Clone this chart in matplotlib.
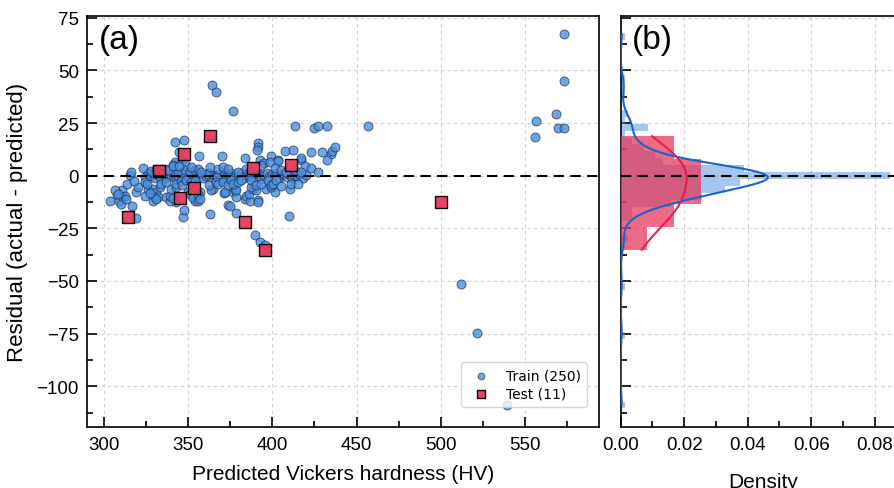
import numpy as np
import matplotlib
matplotlib.use("Agg")
import matplotlib.pyplot as plt
from matplotlib.ticker import MultipleLocator, FormatStrFormatter

# ---- data: predicted hardness (HV) and residuals (actual - predicted) ----
train_pred = [
    364.4, 366.4, 376.6, 413.6, 424.8, 427.3, 432.2, 456.6, 573.4, 573.0,
    568.2, 556.8, 569.8, 573.0, 556.2, 511.8, 521.3, 539.1,
    342.0, 347.6, 391.4, 391.6, 391.0, 344.6, 370.1, 356.5, 383.5, 407.7,
    412.2, 422.8, 429.5, 435.0, 435.3, 437.1, 432.6, 416.7, 419.4, 399.4,
    403.5, 392.7, 395.3, 342.0, 346.0, 347.9, 398.4, 403.4, 417.2, 341.0,
    310.9, 307.7, 303.4, 308.9, 311.3, 312.7, 316.3, 319.2, 319.2, 306.4,
    308.3, 310.3, 313.3, 320.2, 326.2, 329.1, 331.1, 333.1, 324.2, 329.1,
    330.1, 332.1, 337.0, 339.0, 343.0, 339.0, 341.0, 340.0, 343.0, 350.0,
    353.9, 346.9, 347.5, 350.9, 352.9, 355.9, 356.8, 363.2, 364.8, 363.8,
    355.8, 356.8, 371.3, 376.6, 371.7, 377.6, 373.7, 374.8, 378.6, 378.6,
    383.6, 384.6, 386.5, 391.5, 391.5, 386.1, 388.5, 390.5, 396.4, 401.4,
    410.3, 409.7, 389.9, 392.5, 395.8, 387.5, 399.4, 378.6, 331.1, 327.1,
    315.6, 324.5, 326.0, 327.5, 329.0, 330.5, 332.0, 333.5, 335.0, 336.5,
    338.0, 339.5, 341.0, 342.5, 344.0, 345.5, 347.0, 348.5, 350.0, 351.5,
    353.0, 354.5, 356.0, 357.5, 359.0, 360.5, 362.0, 363.5, 365.0, 366.5,
    368.0, 369.5, 371.0, 372.5, 374.0, 375.5, 377.0, 378.5, 380.0, 381.5,
    383.0, 384.5, 386.0, 387.5, 389.0, 390.5, 392.0, 393.5, 395.0, 396.5,
    398.0, 399.5, 401.0, 402.5, 404.0, 405.5, 407.0, 408.5, 410.0, 411.5,
    413.0, 414.5, 416.0, 418.0, 420.0, 346.2, 352.8, 361.3, 367.2, 385.6,
    316.0, 323.2, 328.0, 331.1, 334.1, 336.0, 338.0, 344.0, 347.9, 350.9,
    353.9, 355.9, 357.8, 341.0, 344.5, 351.9, 362.8, 367.7, 370.7, 373.7,
    379.6, 384.6, 386.5, 393.5, 401.4, 405.4, 408.3, 413.3, 417.2, 423.0,
    427.1,
    313.5, 318.0, 324.2, 325.2, 334.1, 337.0, 342.8, 345.9, 346.0, 348.9,
    351.9, 353.9, 362.4, 366.7, 367.7, 370.7, 373.7, 375.6, 376.6, 379.6,
    381.6, 387.5, 390.5, 393.5, 397.4, 399.4, 400.4, 402.4, 405.3, 411.3,
    415.3,
]
train_resid = [
    43.0, 40.0, 30.7, 23.8, 22.6, 23.7, 23.5, 23.8, 67.1, 45.2,
    29.3, 26.2, 22.8, 22.6, 18.3, -51.4, -74.7, -108.8,
    16.0, 16.9, 15.6, 13.8, 12.0, 11.2, 9.6, 9.3, 8.3, 11.6,
    12.4, 11.1, 11.5, 10.5, 11.8, 13.6, 7.6, 7.4, 4.8, 9.4,
    7.5, 7.6, 6.0, 6.4, 7.3, 5.7, 6.4, 7.2, 8.6, 5.2,
    -7.0, -9.1, -12.2, -11.8, -10.2, -9.4, -14.6, -19.9, -7.8, -7.0,
    -8.6, -13.3, -11.0, -5.4, -7.0, -6.2, -7.8, -5.4, -9.4, -11.8,
    -10.2, -10.2, -10.2, -11.8, -12.6, -9.4, -10.7, -6.2, -5.4, -7.8,
    -11.8, -19.7, -16.5, -8.6, -10.7, -11.8, -7.8, -18.1, -6.2, -7.0,
    -8.6, -11.0, -8.1, -7.5, -7.8, -7.0, -14.1, -14.6, -17.8, -10.2,
    -11.0, -9.4, -11.8, -11.3, -12.6, -8.6, -6.2, -7.0, -6.2, -7.8,
    -6.5, -19.2, -28.1, -31.3, -32.8, -5.4, -5.4, -7.0, -11.0, -8.0,
    0.4, -0.8, 1.2, -0.3, 0.9, -1.2, 0.2, -0.6, 1.4, -1.0,
    0.4, -0.2, 0.8, -1.4, 0.0, 1.1, -0.7, 0.6, -0.4, 1.5,
    -1.1, 0.3, -0.5, 0.9, -1.3, 0.1, 1.3, -0.8, 0.5, -0.1,
    1.0, -1.5, 0.7, -0.4, 0.2, 1.2, -0.9, 0.4, -0.2, 1.4,
    -1.2, 0.0, 0.8, -0.6, 1.1, -0.3, 0.6, -1.4, 0.3, 1.5,
    -0.7, 0.9, -0.1, 1.3, -1.0, 0.2, 0.7, -0.5, 1.0, -1.3,
    0.4, -0.2, 0.8, -0.9, 0.3, 0.2, -0.3, 0.6, -0.6, 0.5,
    2.0, 3.5, 2.4, 3.3, 3.3, 3.3, 2.5, 1.9, 2.5, 1.8,
    2.5, 3.3, 1.8, 4.6, 4.8, 4.1, 4.1, 3.3, 4.1, 3.3,
    2.0, 3.0, 2.5, 4.9, 3.6, 2.5, 1.7, 2.5, 1.8, 3.8,
    2.0,
    -3.9, -2.5, -3.1, -3.9, -3.8, -3.1, -3.9, -2.3, -4.6, -1.9,
    -3.1, -2.3, -4.6, -3.1, -3.8, -3.1, -4.6, -1.8, -3.9, -3.1,
    -2.0, -1.8, -4.6, -3.8, -2.0, -4.6, -3.9, -1.9, -4.8, -3.8,
    -3.9,
]
test_pred = [314.5, 332.5, 347.5, 362.8, 353.4, 345.1, 388.5, 383.6, 411.0, 395.4, 500.4]
test_resid = [-19.4, 2.2, 10.3, 18.8, -5.8, -10.4, 3.9, -21.9, 5.0, -35.2, -12.3]

train_label = f"Train ({len(train_pred)})"
test_label = f"Test ({len(test_pred)})"

BLUE = "#4a8fe0"
BLUE_LINE = "#1565d0"
RED = "#e6395c"
RED_LINE = "#e0204f"


def kde_curve(values, n=400):
    """Gaussian KDE (Scott bandwidth) evaluated over the data range."""
    v = np.asarray(values, dtype=float)
    bw = v.std(ddof=1) * len(v) ** (-1.0 / 5.0)
    grid = np.linspace(v.min(), v.max(), n)
    z = (grid[:, None] - v[None, :]) / bw
    dens = np.exp(-0.5 * z ** 2).sum(axis=1) / (len(v) * bw * np.sqrt(2 * np.pi))
    return grid, dens


plt.rcParams["font.family"] = ["Liberation Sans", "DejaVu Sans"]

fig = plt.figure(figsize=(8.95, 4.89), dpi=100)
ax1 = fig.add_axes([0.0975, 0.1241, 0.5717, 0.8417])
ax2 = fig.add_axes([0.6935, 0.1241, 0.3193, 0.8417], sharey=ax1)

grid_kw = dict(color="#cfcfcf", linestyle=(0, (3, 3)), linewidth=0.8)

# ---- (a) residual scatter ----
ax1.grid(True, **grid_kw)
ax1.set_axisbelow(True)
ax1.scatter(train_pred, train_resid, s=42, marker="o", facecolor=BLUE,
            edgecolor="#1c2c4c", linewidth=0.6, alpha=0.8, label=train_label, zorder=3)
ax1.scatter(test_pred, test_resid, s=70, marker="s", facecolor=RED,
            edgecolor="black", linewidth=1.0, alpha=0.95, label=test_label, zorder=4)
ax1.axhline(0, color="black", linestyle=(0, (5, 3)), linewidth=1.5, zorder=5)

ax1.set_xlim(290, 594)
ax1.set_ylim(-119.5, 76)
ax1.xaxis.set_major_locator(MultipleLocator(50))
ax1.xaxis.set_minor_locator(MultipleLocator(25))
ax1.yaxis.set_major_locator(MultipleLocator(25))
ax1.yaxis.set_minor_locator(MultipleLocator(12.5))
ax1.set_xlabel("Predicted Vickers hardness (HV)", fontsize=15, labelpad=8)
ax1.set_ylabel("Residual (actual - predicted)", fontsize=16, labelpad=6)
ax1.text(12 / 511.7, 1 - 8 / 411.6, "(a)", transform=ax1.transAxes,
         fontsize=24, va="top", ha="left")

leg = ax1.legend(loc="lower right", bbox_to_anchor=(0.977, 0.049), borderaxespad=0,
                 prop={"family": "DejaVu Sans", "size": 10}, frameon=True,
                 fancybox=True, edgecolor="#cccccc", handletextpad=0.8,
                 borderpad=0.45, labelspacing=0.3, markerscale=0.75)

# ---- (b) residual distributions ----
ax2.grid(True, **grid_kw)
ax2.set_axisbelow(True)
train_bins = np.arange(-113.85, 71.0, 3.3)
ax2.hist(train_resid, bins=train_bins, density=True, orientation="horizontal",
         color=BLUE, alpha=0.5, zorder=2)
ax2.hist(test_resid, bins=5, density=True, orientation="horizontal",
         color=RED, alpha=0.75, zorder=3)
gy, gd = kde_curve(train_resid)
ax2.plot(gd, gy, color=BLUE_LINE, linewidth=1.5, zorder=5)
gy, gd = kde_curve(test_resid)
ax2.plot(gd, gy, color=RED_LINE, linewidth=1.5, zorder=5)
ax2.axhline(0, color="black", linestyle=(0, (5, 3)), linewidth=1.5, zorder=6)

ax2.set_xlim(0, 0.09)
ax2.xaxis.set_major_locator(MultipleLocator(0.02))
ax2.xaxis.set_minor_locator(MultipleLocator(0.01))
ax2.xaxis.set_major_formatter(FormatStrFormatter("%.2f"))
ax2.tick_params(axis="y", labelleft=False)
ax2.set_xlabel("Density", fontsize=15, labelpad=14)
ax2.text(11 / 285.75, 1 - 8 / 411.6, "(b)", transform=ax2.transAxes,
         fontsize=24, va="top", ha="left")

for ax in (ax1, ax2):
    ax.tick_params(which="both", direction="in", top=False, right=False,
                   width=1.2, labelsize=13.5, pad=6)
    ax.tick_params(which="major", length=7)
    ax.tick_params(which="minor", length=4)
    for sp in ax.spines.values():
        sp.set_linewidth(1.2)
        sp.set_color("black")

fig.savefig("out.png", dpi=100)
